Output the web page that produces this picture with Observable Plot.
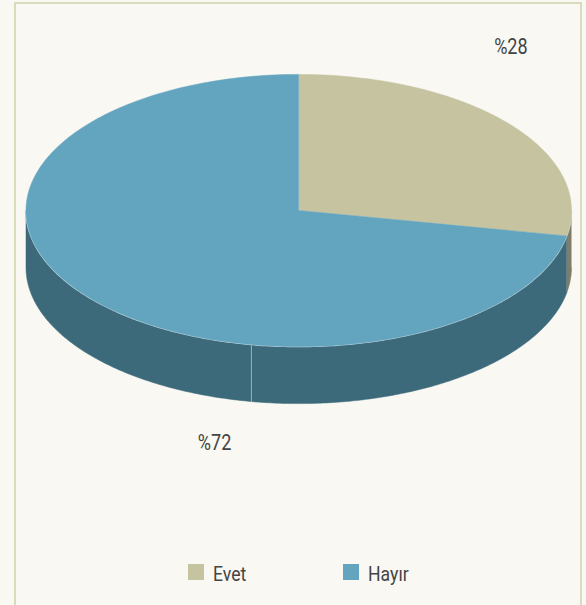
<!DOCTYPE html>
<html>
<head>
<meta charset="utf-8">
<script src="https://cdn.jsdelivr.net/npm/d3@7"></script>
<script src="https://cdn.jsdelivr.net/npm/@observablehq/plot@0.6"></script>
<style>
  html, body { margin: 0; padding: 0; background: #f9f8f3; }
  #wrap { position: relative; width: 586px; height: 605px; overflow: hidden; background: #f9f8f3;
          font-family: Roboto, "DejaVu Sans", sans-serif; }
  #frame { position: absolute; left: 14px; top: 2px; width: 568px; height: 700px; box-sizing: border-box;
           border: 2px solid #d9dbba; border-bottom: none; }
  #chart { position: absolute; left: 0; top: 0; }
  .lg { position: absolute; top: 563px; height: 18px; display: flex; align-items: center; font-size: 21px; color: #444; }
  .lg .sw { width: 16px; height: 16px; margin-right: 9px; }
  .lg span { display: inline-block; transform: scaleX(0.84); transform-origin: left center; margin-top: 3px; }
</style>
</head>
<body>
<div id="wrap">
  <div id="frame"></div>
  <div id="chart"></div>
  <div id="legend"></div>
</div>
<script>
// ---- data ----
const categories = ["Evet", "Hayır"];
const shares = [28, 72];
const labels = ["%28", "%72"];
const topColors = ["#c6c3a1", "#63a4bf"];
const sideColors = ["#7f7d67", "#3c6a7a"];

// ---- geometry (unit ellipse, angles clockwise from 12 o'clock) ----
const RY = 0.499, DEPTH = 0.209, N = 240;
const total = d3.sum(shares);
const slices = [];
let acc = 0;
shares.forEach((v, i) => {
  const a0 = acc / total * 2 * Math.PI;
  acc += v;
  const a1 = acc / total * 2 * Math.PI;
  slices.push({ i, a0, a1, mid: (a0 + a1) / 2 });
});
const pt = (a, dz = 0) => ({ x: Math.sin(a), y: -RY * Math.cos(a) + dz });
const arc = (a0, a1, dz = 0) => d3.range(N + 1).map(k => pt(a0 + (a1 - a0) * k / N, dz));

// sides: visible front half [pi/2, 3pi/2]
const sidePts = [];
slices.forEach(s => {
  const b0 = Math.max(s.a0, Math.PI / 2), b1 = Math.min(s.a1, 3 * Math.PI / 2);
  if (b1 > b0) {
    const poly = [...arc(b0, b1), ...arc(b0, b1, DEPTH).reverse()];
    poly.forEach(p => sidePts.push({ ...p, id: "s" + s.i, fill: sideColors[s.i] }));
  }
});
// top faces
const topPts = [];
slices.forEach(s => {
  const poly = [{ x: 0, y: 0 }, ...arc(s.a0, s.a1)];
  poly.forEach(p => topPts.push({ ...p, id: "t" + s.i, fill: topColors[s.i] }));
});
// seam on the side wall
const seamAngle = 190 / 180 * Math.PI;
const seam = [pt(seamAngle), pt(seamAngle, DEPTH)];
// light rim on the front edge
const rim = arc(Math.PI / 2, 3 * Math.PI / 2);

// ---- scales ----
const W = 586, H = 545, K = 272.75, CX = 298.25, CY = 210;
const xDom = [-CX / K, (W - CX) / K];
const yDom = [-CY / K, (H - CY) / K];

const lab = slices.map(s => ({ ...pt(s.mid), text: labels[s.i] }));

const chart = Plot.plot({
  width: W, height: H,
  margin: 0,
  style: { background: "transparent", fontFamily: 'Roboto, "DejaVu Sans", sans-serif' },
  x: { domain: xDom, range: [0, W], axis: null },
  y: { domain: yDom, range: [0, H], axis: null },
  color: { type: "identity" },
  marks: [
    Plot.line(sidePts, { x: "x", y: "y", z: "id", fill: "fill", stroke: "fill", strokeWidth: 0.5, curve: "linear" }),
    Plot.line(seam, { x: "x", y: "y", stroke: "#b7c6cb", strokeWidth: 0.8 }),
    Plot.line(rim, { x: "x", y: "y", stroke: "#c9dbe2", strokeWidth: 1.4 }),
    Plot.line(topPts, { x: "x", y: "y", z: "id", fill: "fill", stroke: "fill", strokeWidth: 0.5, curve: "linear" }),
    Plot.text([lab[0]], { x: "x", y: "y", text: "text", fontSize: 22, fill: "#444", dx: 2, dy: -77 }),
    Plot.text([lab[1]], { x: "x", y: "y", text: "text", fontSize: 22, fill: "#444", dx: 126, dy: 146 })
  ]
});
document.getElementById("chart").appendChild(chart);
// condensed look for the labels
chart.querySelectorAll("text").forEach(t => {
  const len = t.getComputedTextLength();
  if (len > 0) {
    t.setAttribute("textLength", (len * 0.82).toFixed(1));
    t.setAttribute("lengthAdjust", "spacingAndGlyphs");
  }
});

// ---- legend ----
const legend = document.getElementById("legend");
categories.forEach((c, i) => {
  const item = document.createElement("div");
  item.className = "lg";
  item.style.left = (188 + i * 155) + "px";
  item.innerHTML = `<div class="sw" style="background:${topColors[i]}"></div><span>${c}</span>`;
  legend.appendChild(item);
});
</script>
</body>
</html>
